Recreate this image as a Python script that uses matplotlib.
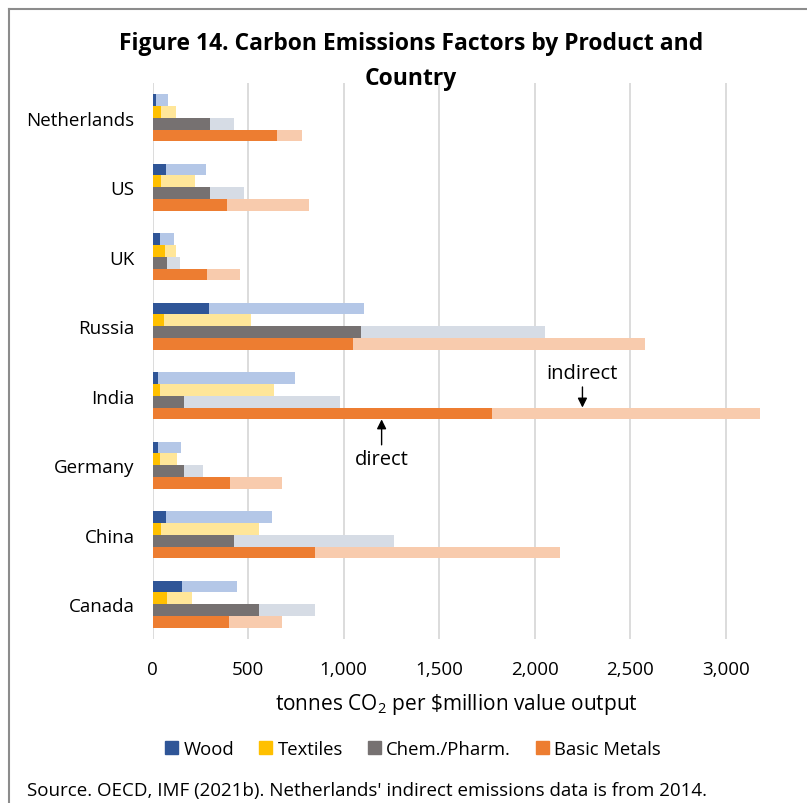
import matplotlib
matplotlib.use("Agg")
import matplotlib.pyplot as plt
from matplotlib.patches import Patch
from matplotlib.lines import Line2D
import numpy as np

plt.rcParams['font.family'] = ['Open Sans', 'DejaVu Sans']
plt.rcParams['mathtext.fontset'] = 'custom'
plt.rcParams['mathtext.rm'] = 'Open Sans'

countries = ["Netherlands", "US", "UK", "Russia", "India", "Germany", "China", "Canada"]
products = ["Wood", "Textiles", "Chem./Pharm.", "Basic Metals"]

# direct emissions, tonnes CO2 per $million output
wood_direct     = [18, 71, 41, 294, 29, 29, 72, 153]
textiles_direct = [43, 46, 65, 62, 39, 39, 44, 76]
chem_direct     = [301, 303, 74, 1093, 163, 165, 425, 556]
metals_direct   = [653, 392, 287, 1049, 1778, 404, 849, 399]

# direct + indirect totals
wood_total     = [81, 282, 113, 1107, 748, 149, 626, 440]
textiles_total = [121, 224, 121, 514, 636, 127, 556, 207]
chem_total     = [428, 481, 142, 2053, 983, 264, 1262, 852]
metals_total   = [783, 821, 458, 2577, 3180, 676, 2130, 678]

direct_colors   = ["#2F5597", "#FFC000", "#767171", "#ED7D31"]
indirect_colors = ["#B4C7E7", "#FFE699", "#D6DCE5", "#F8CBAD"]

directs = [wood_direct, textiles_direct, chem_direct, metals_direct]
totals = [wood_total, textiles_total, chem_total, metals_total]

W, H = 807, 804
fig = plt.figure(figsize=(W / 100, H / 100), dpi=100)
ax = fig.add_axes([152.5 / W, (H - 640) / H, (821.3 - 152.5) / W, (640 - 84) / H])

y = np.arange(len(countries))
h = 0.17
for k in range(4):
    d = np.array(directs[k])
    t = np.array(totals[k])
    yy = y + (k - 1.5) * h
    ax.barh(yy, d, height=h, color=direct_colors[k], zorder=3)
    ax.barh(yy, t - d, left=d, height=h, color=indirect_colors[k], zorder=3)

ticks = list(range(0, 3001, 500))
ax.set_xlim(0, 3500)
ax.set_ylim(len(countries) - 0.5, -0.5)
ax.set_yticks(y)
ax.set_yticklabels(countries, fontsize=13.5)
ax.set_xticks(ticks)
ax.set_xticklabels([f"{v:,}" for v in ticks], fontsize=13.5)
ax.tick_params(length=0, pad=15, axis='x')
ax.tick_params(length=0, pad=13, axis='y')
ax.grid(axis='x', color="#D9D9D9", lw=1.3, zorder=0)
for s in ax.spines.values():
    s.set_visible(False)
ax.set_xlabel("tonnes CO$_2$ per \\$million value output", fontsize=15)
ax.xaxis.set_label_coords(0.455, -0.094)

# callouts on India's basic metals bar
ax.annotate("indirect", xy=(2250, 4 + h), xytext=(2250, 3.67),
            ha='center', va='center', fontsize=14.5,
            arrowprops=dict(arrowstyle='-|>', color='black', lw=1, mutation_scale=14, shrinkA=1, shrinkB=0))
ax.annotate("direct", xy=(1199, 4 + 2 * h), xytext=(1199, 4.91),
            ha='center', va='center', fontsize=14.5,
            arrowprops=dict(arrowstyle='-|>', color='black', lw=1, mutation_scale=14, shrinkA=1, shrinkB=0))

fig.text(411 / W, 1 - 61.5 / H, "Figure 14. Carbon Emissions Factors by Product and\nCountry",
         ha='center', va='center', fontsize=16.5, fontweight='bold', linespacing=1.6)

handles = [Patch(color=c) for c in direct_colors]
fig.legend(handles, products, loc='center', bbox_to_anchor=(413 / W, 1 - 750 / H), ncol=4,
           frameon=False, fontsize=13.3, handlelength=0.7, handleheight=0.7,
           handletextpad=0.3, columnspacing=1.35)

fig.text(27 / W, 1 - 791 / H, "Source. OECD, IMF (2021b). Netherlands' indirect emissions data is from 2014.",
         ha='left', va='center', fontsize=13.5)

# outer frame
fig.add_artist(Line2D([8.5 / W, 8.5 / W], [0, 1 - 10 / H], transform=fig.transFigure, color="#8C8C8C", lw=1.5))
fig.add_artist(Line2D([8.5 / W, 1], [1 - 10 / H, 1 - 10 / H], transform=fig.transFigure, color="#8C8C8C", lw=1.5))

fig.savefig("out.png", dpi=100)
